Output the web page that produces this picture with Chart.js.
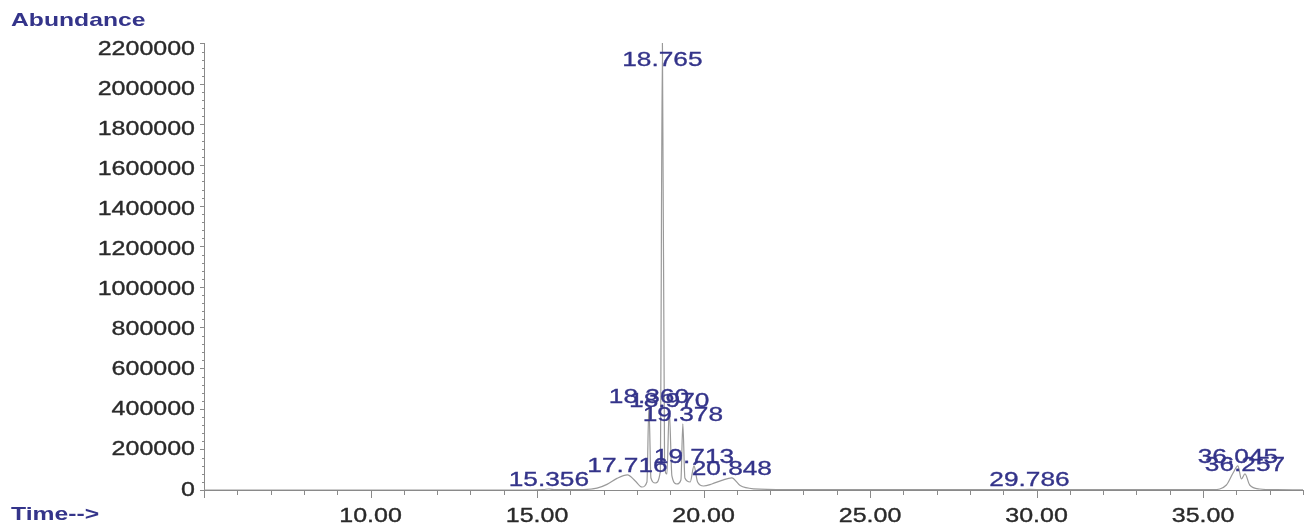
<!DOCTYPE html>
<html lang="en">
<head>
<meta charset="UTF-8">
<title>Abundance vs Time</title>
<script src="https://cdn.jsdelivr.net/npm/chart.js"></script>
<style>
  html, body { margin: 0; padding: 0; background: #fff; }
  #wrap { position: relative; width: 1311px; height: 529px; }
</style>
</head>
<body>
<div id="wrap"><canvas id="tic"></canvas></div>
<script>
// retention time (min) and abundance of the ion trace
const times = [5.0, 14.9, 15.2, 15.356, 15.55, 16.4, 16.8, 17.1, 17.4, 17.716, 17.95, 18.15, 18.3, 18.36, 18.42,
  18.55, 18.7, 18.765, 18.83, 18.9, 18.97, 19.05, 19.2, 19.32, 19.378, 19.44, 19.6, 19.713, 19.82, 20.0,
  20.25, 20.55, 20.848, 21.1, 21.5, 22.5, 29.4, 29.786, 30.2, 35.3, 35.7, 35.9, 36.045, 36.15, 36.257,
  36.4, 36.7, 37.2, 38.0];
const abundance = [0, 0, 2500, 5000, 2000, 2500, 9000, 28000, 58000, 75000, 45000, 15000, 40000, 420000, 60000,
  35000, 90000, 2230000, 120000, 80000, 400000, 70000, 30000, 50000, 330000, 60000, 40000, 120000, 40000, 20000,
  30000, 48000, 60000, 22000, 6000, 2000, 2000, 3000, 1500, 2000, 25000, 85000, 120000, 55000, 80000,
  25000, 5000, 1500, 1000];

// labelled peaks
const peakTimes = [15.356, 17.716, 18.360, 18.765, 18.970, 19.378, 19.713, 20.848, 29.786, 36.045, 36.257];
const peakLabels = ['15.356', '17.716', '18.360', '18.765', '18.970', '19.378', '19.713', '20.848', '29.786', '36.045', '36.257'];

const xTickLabels = ['10.00', '15.00', '20.00', '25.00', '30.00', '35.00'];
const yTickLabels = ['0', '200000', '400000', '600000', '800000', '1000000', '1200000',
  '1400000', '1600000', '1800000', '2000000', '2200000'];

const NAVY = '#34348a';
const AXIS = '#8a8a8a';

function stretchText(ctx, txt, x, y, align, font, color, sx, weight) {
  ctx.save();
  ctx.font = font;
  ctx.fillStyle = color;
  ctx.strokeStyle = color;
  ctx.lineWidth = weight;
  ctx.textBaseline = 'middle';
  ctx.textAlign = 'left';
  const w = ctx.measureText(txt).width * sx;
  const left = align === 'center' ? x - w / 2 : align === 'right' ? x - w : x;
  ctx.translate(left, y);
  ctx.scale(sx, 1);
  ctx.fillText(txt, 0, 0);
  if (weight > 0) ctx.strokeText(txt, 0, 0);   // a little heavier, like the scanned print
  ctx.restore();
}

const decorations = {
  id: 'decorations',
  afterDraw(chart) {
    const { ctx, chartArea, scales: { x, y } } = chart;
    ctx.save();
    ctx.strokeStyle = AXIS;
    ctx.lineWidth = 1;

    // x tick marks: every minute, longer every five
    x.ticks.forEach(t => {
      const px = Math.round(x.getPixelForValue(t.value)) + 0.5;
      const len = t.value % 5 === 0 ? 8 : 5;
      ctx.beginPath();
      ctx.moveTo(px, chartArea.bottom);
      ctx.lineTo(px, chartArea.bottom + len);
      ctx.stroke();
    });
    // y tick marks, with small minor marks in between
    y.ticks.forEach(t => {
      for (let k = 0; k < 5; k++) {
        const v = t.value + k * 40000;
        if (v > y.max) break;
        const py = Math.round(y.getPixelForValue(v)) + 0.5;
        ctx.beginPath();
        ctx.moveTo(chartArea.left - (k === 0 ? 4 : 2), py);
        ctx.lineTo(chartArea.left, py);
        ctx.stroke();
      }
    });
    ctx.restore();

    const tickFont = '20px "Liberation Sans", Arial, sans-serif';
    xTickLabels.forEach(l => {
      stretchText(ctx, l, x.getPixelForValue(parseFloat(l)), chartArea.bottom + 26, 'center', tickFont, '#2a2a2a', 1.25, 0.35);
    });
    yTickLabels.forEach(l => {
      stretchText(ctx, l, chartArea.left - 9, y.getPixelForValue(parseFloat(l)), 'right', tickFont, '#2a2a2a', 1.25, 0.35);
    });

    const titleFont = 'bold 19px "Liberation Sans", Arial, sans-serif';
    stretchText(ctx, 'Abundance', 11, 21, 'left', titleFont, NAVY, 1.3, 0);
    stretchText(ctx, 'Time-->', 11, chartArea.bottom + 25, 'left', titleFont, NAVY, 1.3, 0);

    const peakFont = '21px "Liberation Sans", Arial, sans-serif';
    peakTimes.forEach((t, i) => {
      const k = times.findIndex(v => Math.abs(v - t) < 1e-6);
      const apex = y.getPixelForValue(abundance[k]);
      const cy = Math.max(apex - 9, chartArea.top + 17);
      stretchText(ctx, peakLabels[i], x.getPixelForValue(t), cy, 'center', peakFont, NAVY, 1.25, 0.35);
    });
  }
};

new Chart(document.getElementById('tic'), {
  type: 'line',
  data: {
    datasets: [{
      data: times.map((t, i) => ({ x: t, y: abundance[i] })),
      borderColor: '#9a9a9a',
      borderWidth: 1.2,
      pointRadius: 0,
      cubicInterpolationMode: 'monotone',
      fill: false
    }]
  },
  options: {
    responsive: true,
    maintainAspectRatio: false,
    animation: false,
    layout: { padding: { left: 204, right: 8, top: 43, bottom: 39 } },
    plugins: { legend: { display: false }, tooltip: { enabled: false } },
    scales: {
      x: {
        type: 'linear',
        min: 5,
        max: 38,
        ticks: { stepSize: 1, includeBounds: false, display: false },
        grid: { display: false, drawTicks: false },
        border: { display: true, color: AXIS, width: 1 }
      },
      y: {
        min: 0,
        max: 2230000,
        ticks: { stepSize: 200000, includeBounds: false, display: false },
        grid: { display: false, drawTicks: false },
        border: { display: true, color: AXIS, width: 1 }
      }
    }
  },
  plugins: [decorations]
});
</script>
</body>
</html>
